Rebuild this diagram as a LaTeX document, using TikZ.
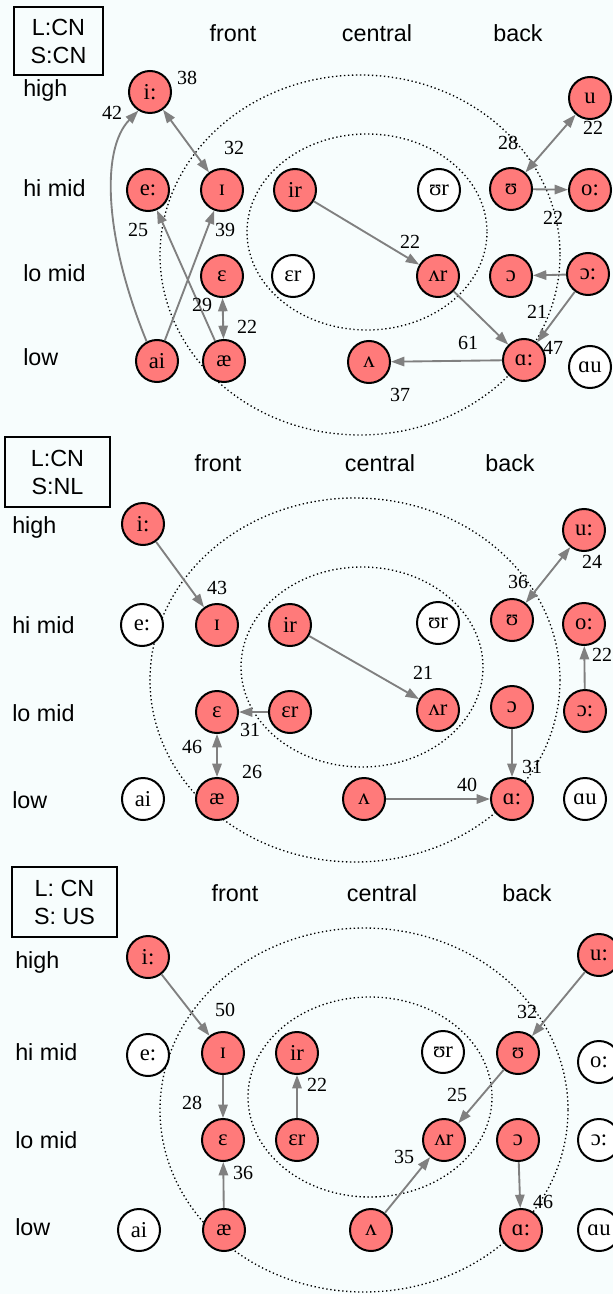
\documentclass[tikz,border=0pt]{standalone}
\usepackage{fontspec}
\setmainfont{Liberation Serif}
\setsansfont{Liberation Sans}
\usetikzlibrary{arrows.meta}
\definecolor{paper}{RGB}{247,253,253}
\definecolor{vowel}{RGB}{255,122,122}
\definecolor{shift}{RGB}{128,128,128}
\tikzset{
  used/.style={circle,draw=black,line width=1.5pt,fill=vowel,minimum size=31.5pt,inner sep=0pt,font=\fontsize{17}{19}\selectfont},
  unused/.style={used,fill=white},
  mv/.style={draw=shift,line width=1.4pt,-{Triangle[length=10pt,width=7pt]}},
  mvboth/.style={mv,{Triangle[length=10pt,width=7pt]}-{Triangle[length=10pt,width=7pt]}},
  cnt/.style={font=\fontsize{15}{17}\selectfont,inner sep=0pt},
  axis/.style={font=\sffamily\fontsize{17.5}{20}\selectfont,inner sep=0pt},
  ring/.style={line width=1pt,dash pattern=on 1pt off 2pt},
  key/.style={draw,line width=1pt,align=center,inner sep=0pt,font=\sffamily\fontsize{17.5}{21}\selectfont}
}
\begin{document}
\begin{tikzpicture}[x=0.75pt,y=-0.75pt]
\fill[paper] (0,0) rectangle (613,1294);
\useasboundingbox (0,0) rectangle (613,1294);

\node[key,minimum width=66.75pt,minimum height=51pt] (a-key) at (58.5,41) {L:CN\\S:CN};
\node[axis] (a-front) at (233,33) {front};
\node[axis] (a-central) at (377,33) {central};
\node[axis] (a-back) at (518,33) {back};
\node[axis,anchor=west] (a-high) at (23,90) {high};
\node[axis,anchor=west] (a-himid) at (23,188) {hi mid};
\node[axis,anchor=west] (a-lomid) at (23,273) {lo mid};
\node[axis,anchor=west] (a-low) at (23,357) {low};
\draw[ring] (360,255) ellipse [x radius=200,y radius=180];
\draw[ring] (367,232) ellipse [x radius=120,y radius=98];
\node[used] (a-i) at (150,92) {i:};
\node[used] (a-e) at (148,190) {e:};
\node[used] (a-I) at (222,190) {ɪ};
\node[used] (a-ir) at (295,190) {ir};
\node[unused] (a-ur) at (439,190) {ʊr};
\node[used] (a-U) at (511,189) {ʊ};
\node[used] (a-o) at (590,190) {o:};
\node[used] (a-u) at (590,98) {u};
\node[used] (a-E) at (222,276) {ɛ};
\node[unused] (a-Er) at (293,276) {ɛr};
\node[used] (a-Vr) at (438,276) {ʌr};
\node[used] (a-O) at (511,276) {ɔ};
\node[used] (a-OO) at (588,274) {ɔ:};
\node[used] (a-ai) at (157,361) {ai};
\node[used] (a-ae) at (224,361) {æ};
\node[used] (a-V) at (369,362) {ʌ};
\node[used] (a-A) at (524,360) {ɑ:};
\node[unused] (a-Au) at (590,367) {ɑu};
\draw[mv] (a-ai.118) .. controls (105,240) and (100,150) .. (a-i.238);
\draw[mvboth] (a-i) -- (a-I);
\draw[mv] (a-ai) -- (a-I);
\draw[mv] (a-ae) -- (a-e);
\draw[mvboth] (a-E) -- (a-ae);
\draw[mv] (a-ir) -- (a-Vr);
\draw[mvboth] (a-U) -- (a-u);
\draw[mv] (a-U) -- (a-o);
\draw[mv] (a-OO) -- (a-O);
\draw[mv] (a-OO) -- (a-A);
\draw[mv] (a-Vr) -- (a-A);
\draw[mv] (a-A) -- (a-V);
\node[cnt] (a-n38) at (187,78) {38};
\node[cnt] (a-n42) at (112,113) {42};
\node[cnt] (a-n32) at (234,148) {32};
\node[cnt] (a-n25) at (138,230) {25};
\node[cnt] (a-n39) at (225,230) {39};
\node[cnt] (a-n29) at (202,305) {29};
\node[cnt] (a-n22a) at (247,327) {22};
\node[cnt] (a-n22b) at (410,242) {22};
\node[cnt] (a-n28) at (508,143) {28};
\node[cnt] (a-n22c) at (593,128) {22};
\node[cnt] (a-n22d) at (553,218) {22};
\node[cnt] (a-n21) at (537,312) {21};
\node[cnt] (a-n47) at (553,348) {47};
\node[cnt] (a-n61) at (468,343) {61};
\node[cnt] (a-n37) at (400,395) {37};

\node[key,minimum width=78.75pt,minimum height=52.5pt] (b-key) at (57.5,472) {L:CN\\S:NL};
\node[axis] (b-front) at (218,463) {front};
\node[axis] (b-central) at (380,463) {central};
\node[axis] (b-back) at (510,463) {back};
\node[axis,anchor=west] (b-high) at (12,527) {high};
\node[axis,anchor=west] (b-himid) at (12,625) {hi mid};
\node[axis,anchor=west] (b-lomid) at (12,713) {lo mid};
\node[axis,anchor=west] (b-low) at (12,800) {low};
\draw[ring] (355,680) ellipse [x radius=205,y radius=182];
\draw[ring] (362,667) ellipse [x radius=121,y radius=100];
\node[used] (b-i) at (143,524) {i:};
\node[unused] (b-e) at (142,625) {e:};
\node[used] (b-I) at (217,625) {ɪ};
\node[used] (b-ir) at (290,625) {ir};
\node[unused] (b-ur) at (438,623) {ʊr};
\node[used] (b-U) at (512,620) {ʊ};
\node[used] (b-o) at (584,624) {o:};
\node[used] (b-u) at (584,530) {u:};
\node[used] (b-E) at (217,712) {ɛ};
\node[used] (b-Er) at (290,712) {ɛr};
\node[used] (b-Vr) at (438,710) {ʌr};
\node[used] (b-O) at (512,707) {ɔ};
\node[used] (b-OO) at (585,711) {ɔ:};
\node[unused] (b-ai) at (143,799) {ai};
\node[used] (b-ae) at (217,799) {æ};
\node[used] (b-V) at (364,799) {ʌ};
\node[used] (b-A) at (512,799) {ɑ:};
\node[unused] (b-Au) at (585,799) {ɑu};
\draw[mv] (b-i) -- (b-I);
\draw[mv] (b-ir) -- (b-Vr);
\draw[mvboth] (b-U) -- (b-u);
\draw[mv] (b-OO) -- (b-o);
\draw[mv] (b-Er) -- (b-E);
\draw[mvboth] (b-E) -- (b-ae);
\draw[mv] (b-O) -- (b-A);
\draw[mv] (b-V) -- (b-A);
\node[cnt] (b-n43) at (217,588) {43};
\node[cnt] (b-n21) at (423,673) {21};
\node[cnt] (b-n36) at (518,582) {36};
\node[cnt] (b-n24) at (592,562) {24};
\node[cnt] (b-n22) at (602,655) {22};
\node[cnt] (b-n31a) at (250,730) {31};
\node[cnt] (b-n46) at (192,747) {46};
\node[cnt] (b-n26) at (252,772) {26};
\node[cnt] (b-n31b) at (532,767) {31};
\node[cnt] (b-n40) at (467,785) {40};

\node[key,minimum width=78.75pt,minimum height=52.5pt] (c-key) at (64.5,902) {L: CN\\S: US};
\node[axis] (c-front) at (235,893) {front};
\node[axis] (c-central) at (382,893) {central};
\node[axis] (c-back) at (527,893) {back};
\node[axis,anchor=west] (c-high) at (15,962) {high};
\node[axis,anchor=west] (c-himid) at (15,1052) {hi mid};
\node[axis,anchor=west] (c-lomid) at (15,1140) {lo mid};
\node[axis,anchor=west] (c-low) at (15,1227) {low};
\draw[ring] (364,1110) ellipse [x radius=204,y radius=182];
\draw[ring] (370,1097) ellipse [x radius=122,y radius=100];
\node[used] (c-i) at (148,957) {i:};
\node[unused] (c-e) at (148,1055) {e:};
\node[used] (c-I) at (223,1053) {ɪ};
\node[used] (c-ir) at (297,1053) {ir};
\node[unused] (c-ur) at (443,1052) {ʊr};
\node[used] (c-U) at (518,1053) {ʊ};
\node[unused] (c-o) at (599,1062) {o:};
\node[used] (c-u) at (599,955) {u:};
\node[used] (c-E) at (223,1140) {ɛ};
\node[used] (c-Er) at (297,1140) {ɛr};
\node[used] (c-Vr) at (444,1140) {ʌr};
\node[used] (c-O) at (518,1140) {ɔ};
\node[unused] (c-OO) at (599,1140) {ɔ:};
\node[unused] (c-ai) at (139,1230) {ai};
\node[used] (c-ae) at (224,1230) {æ};
\node[used] (c-V) at (371,1230) {ʌ};
\node[used] (c-A) at (521,1230) {ɑ:};
\node[unused] (c-Au) at (599,1230) {ɑu};
\draw[mv] (c-i) -- (c-I);
\draw[mv] (c-u) -- (c-U);
\draw[mv] (c-I) -- (c-E);
\draw[mv] (c-Er) -- (c-ir);
\draw[mv] (c-U) -- (c-Vr);
\draw[mv] (c-V) -- (c-Vr);
\draw[mv] (c-ae) -- (c-E);
\draw[mv] (c-O) -- (c-A);
\node[cnt] (c-n50) at (225,1010) {50};
\node[cnt] (c-n32) at (527,1012) {32};
\node[cnt] (c-n28) at (192,1103) {28};
\node[cnt] (c-n22) at (317,1085) {22};
\node[cnt] (c-n25) at (457,1095) {25};
\node[cnt] (c-n35) at (404,1157) {35};
\node[cnt] (c-n36) at (243,1173) {36};
\node[cnt] (c-n46) at (543,1202) {46};
\end{tikzpicture}
\end{document}
